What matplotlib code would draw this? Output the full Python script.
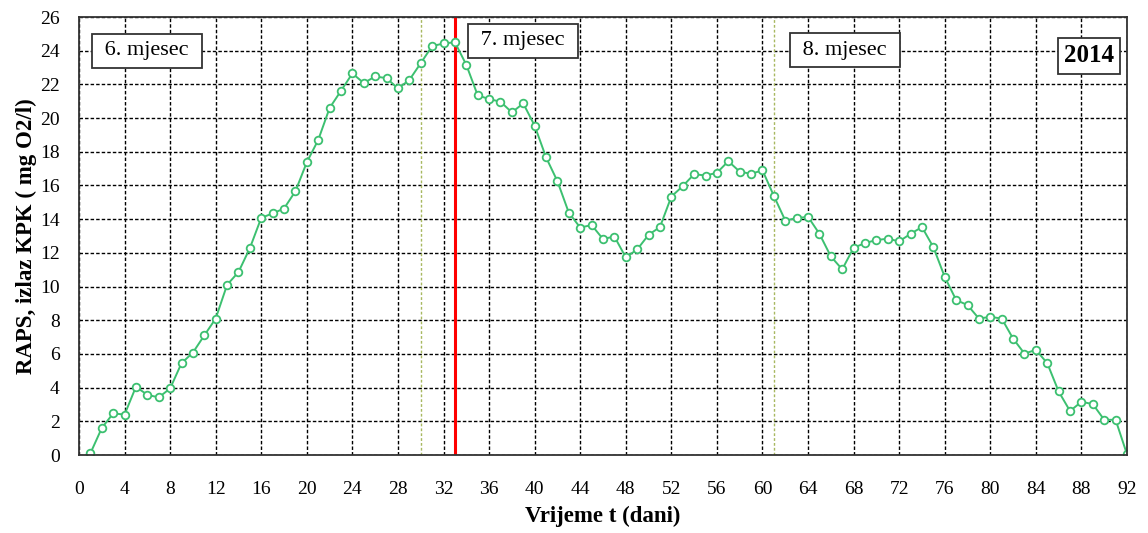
import matplotlib.pyplot as plt
import numpy as np

# daily values, days 1..92
days = np.arange(1, 93)
raps = [0.1, 1.6, 2.47, 2.4, 4.05, 3.57, 3.42, 3.95, 5.45, 6.08,
        7.1, 8.1, 10.1, 10.86, 12.28, 14.08, 14.34, 14.63, 15.66, 17.38,
        18.7, 20.6, 21.62, 22.65, 22.08, 22.47, 22.37, 21.76, 22.26, 23.26,
        24.27, 24.43, 24.5, 23.16, 21.35, 21.13, 20.97, 20.34, 20.87, 19.55,
        17.67, 16.25, 14.38, 13.5, 13.65, 12.82, 12.97, 11.73, 12.2, 13.07,
        13.53, 15.34, 15.96, 16.67, 16.59, 16.75, 17.44, 16.82, 16.69, 16.9,
        15.38, 13.92, 14.06, 14.14, 13.13, 11.79, 11.02, 12.3, 12.58, 12.76,
        12.84, 12.68, 13.13, 13.53, 12.34, 10.57, 9.2, 8.9, 8.1, 8.2,
        8.1, 6.91, 6.02, 6.24, 5.45, 3.77, 2.61, 3.16, 3.02, 2.09,
        2.09, 0.04]

month_lines = [30, 61]
red_line = 33
month_labels = ['6. mjesec', '7. mjesec', '8. mjesec']
month_pos = [(147, 51), (523, 41), (845, 50)]  # pixel centres of the boxes

plt.rcParams['font.family'] = ['Liberation Serif', 'DejaVu Serif']

fig = plt.figure(figsize=(11.48, 5.33), dpi=100)
ax = fig.add_axes([79 / 1148, 1 - 455 / 533, (1127 - 79) / 1148, (455 - 17) / 533])

ax.set_xlim(0, 92)
ax.set_ylim(0, 26)
ax.set_xticks(np.arange(0, 93, 4))
ax.set_yticks(np.arange(0, 27, 2))
ax.grid(True, color='black', linestyle=(0, (2.5, 1.5)), linewidth=1.0)
ax.set_axisbelow(True)
ax.tick_params(axis='x', length=0, pad=19, labelsize=14)
ax.tick_params(axis='y', length=0, pad=14, labelsize=14)
for s in ax.spines.values():
    s.set_color('#333333')
    s.set_linewidth(1.3)

for m in month_lines:
    ax.axvline(m, color='#a8b860', linestyle=(0, (2, 1.5)), linewidth=1.0)
ax.axvline(red_line, color='red', linewidth=2.2)

ax.plot(days, raps, color='#3cc070', linewidth=1.4, marker='o', markersize=5.5,
        markerfacecolor='white', markeredgecolor='#3cc070', markeredgewidth=1.3)

for lab, (px, py) in zip(month_labels, month_pos):
    fig.text(px / 1148, 1 - py / 533, ' ' + lab + ' ', ha='center', va='center',
             fontsize=16,
             bbox=dict(boxstyle='square,pad=0.35', fc='white', ec='#333333', lw=1.3))
fig.text(1089 / 1148, 1 - 56 / 533, '2014', ha='center', va='center', fontsize=18,
         fontweight='bold',
         bbox=dict(boxstyle='square,pad=0.25', fc='white', ec='#333333', lw=1.3))

ax.set_xlabel('Vrijeme t (dani)', fontsize=16.5, fontweight='bold', labelpad=5)
ax.set_ylabel('RAPS, izlaz KPK ( mg O2/l)', fontsize=16.5, fontweight='bold', labelpad=2)

fig.savefig('out.png', dpi=100)
